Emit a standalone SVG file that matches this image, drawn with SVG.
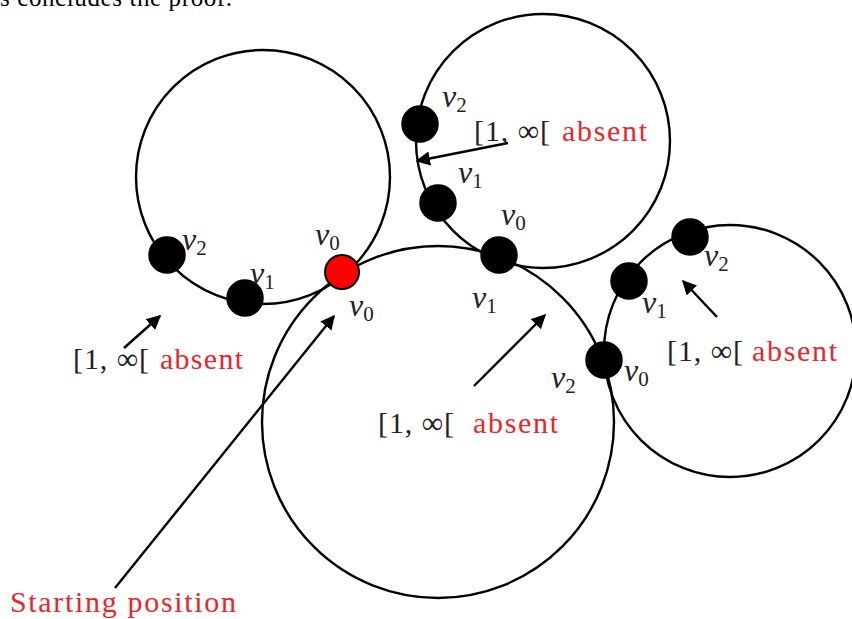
<svg xmlns="http://www.w3.org/2000/svg" width="852" height="619" viewBox="0 0 852 619">
<style>
.c{fill:none;stroke:#000;stroke-width:2.4}
.n{fill:#000;stroke:#000;stroke-width:1.5}
.v{font-family:"Liberation Serif",serif;font-style:italic;font-size:32px;fill:#222}
.s{font-style:normal;font-size:21px}
.t{font-family:"Liberation Serif",serif;font-size:30px;fill:#222}
.r{font-family:"Liberation Serif",serif;font-size:30px;fill:#e8262b}
.a{stroke:#000;stroke-width:2.4;fill:none;marker-end:url(#ah)}
</style>
<defs>
<marker id="ah" viewBox="0 0 10 10" refX="9" refY="5" markerWidth="6" markerHeight="6" orient="auto" markerUnits="strokeWidth">
<path d="M0,0 L10,5 L0,10 z" fill="#000"/>
</marker>
</defs>
<rect width="852" height="619" fill="#fff"/>
<text x="0" y="6" font-family="Liberation Serif, serif" font-size="25" fill="#000" textLength="232">s concludes the proof.</text>
<g id="circles">
<circle class="c" cx="263" cy="177" r="127"/>
<circle class="c" cx="543" cy="141" r="127"/>
<circle class="c" cx="438" cy="422" r="176"/>
<circle class="c" cx="730" cy="351" r="126"/>
</g>
<g id="connectors">
<line class="a" x1="124" y1="348" x2="160" y2="316"/>
<line class="a" x1="508" y1="143" x2="417" y2="161"/>
<line class="a" x1="474" y1="386" x2="545" y2="315"/>
<line class="a" x1="717" y1="317" x2="683" y2="281"/>
<line class="a" x1="115" y1="588" x2="334" y2="316"/>
</g>
<g id="start"><circle cx="342" cy="272" r="17" fill="#f00" stroke="#000" stroke-width="2"/></g>
<g id="n-left-v2"><circle class="n" cx="167" cy="255" r="18"/></g>
<g id="n-left-v1"><circle class="n" cx="245" cy="298" r="18"/></g>
<g id="n-top-v2"><circle class="n" cx="420" cy="124" r="18"/></g>
<g id="n-top-v1"><circle class="n" cx="438" cy="203" r="18"/></g>
<g id="n-top-v0"><circle class="n" cx="499" cy="255" r="18"/></g>
<g id="n-right-v2"><circle class="n" cx="690" cy="237" r="18"/></g>
<g id="n-right-v1"><circle class="n" cx="629" cy="281" r="18"/></g>
<g id="n-right-v0"><circle class="n" cx="604" cy="360" r="18"/></g>
<g id="labels">
<text class="v" x="182" y="250">v<tspan class="s" dy="5">2</tspan></text>
<text class="v" x="250" y="284">v<tspan class="s" dy="5">1</tspan></text>
<text class="v" x="315" y="245">v<tspan class="s" dy="5">0</tspan></text>
<text class="v" x="349" y="316">v<tspan class="s" dy="5">0</tspan></text>
<text class="v" x="442" y="107">v<tspan class="s" dy="5">2</tspan></text>
<text class="v" x="458" y="183">v<tspan class="s" dy="5">1</tspan></text>
<text class="v" x="501" y="225">v<tspan class="s" dy="5">0</tspan></text>
<text class="v" x="472" y="308">v<tspan class="s" dy="5">1</tspan></text>
<text class="v" x="551" y="388">v<tspan class="s" dy="5">2</tspan></text>
<text class="v" x="624" y="381">v<tspan class="s" dy="5">0</tspan></text>
<text class="v" x="642" y="313">v<tspan class="s" dy="5">1</tspan></text>
<text class="v" x="704" y="266">v<tspan class="s" dy="5">2</tspan></text>
<text class="t" x="73" y="369" textLength="76">[1, ∞[</text>
<text class="r" x="160" y="369" textLength="83">absent</text>
<text class="t" x="474" y="141" textLength="76">[1, ∞[</text>
<text class="r" x="562" y="141" textLength="85">absent</text>
<text class="t" x="378" y="433" textLength="76">[1, ∞[</text>
<text class="r" x="473" y="433" textLength="85">absent</text>
<text class="t" x="667" y="361" textLength="76">[1, ∞[</text>
<text class="r" x="752" y="361" textLength="85">absent</text>
<text class="r" x="10" y="612" textLength="226">Starting position</text>
</g>
</svg>
